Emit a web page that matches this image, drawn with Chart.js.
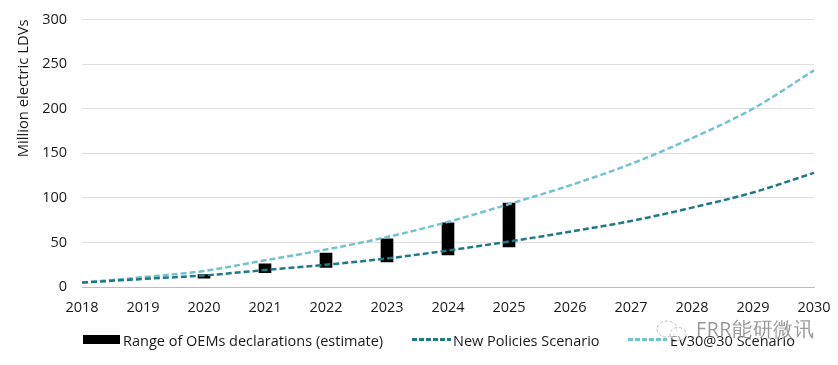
<!DOCTYPE html>
<html>
<head>
<meta charset="utf-8">
<script src="https://cdn.jsdelivr.net/npm/chart.js@4"></script>
<style>
  html, body { margin: 0; padding: 0; background: #fff; }
  #wrap { position: relative; width: 838px; height: 365px; overflow: hidden; font-family: "Open Sans", sans-serif; color: #1a1a1a; }
  #wrap canvas { position: absolute; left: 0; top: 0; }
  .leg { position: absolute; top: 331px; font-size: 14.5px; line-height: 20px; white-space: nowrap; }
  .key { position: absolute; }
  #mark { position: absolute; left: 696px; top: 316px; font-size: 19.5px; line-height: 26px; color: rgba(120,120,120,.75); letter-spacing: .6px; text-shadow: 0 0 2px #fff; white-space: nowrap; }
  #icon { position: absolute; left: 655px; top: 319px; }
</style>
</head>
<body>
<div id="wrap">
  <canvas id="chart" width="838" height="365"></canvas>
  <div class="key" style="left:83px;top:335px;width:37px;height:9px;background:#000"></div>
  <div class="leg" style="left:123px">Range of OEMs declarations (estimate)</div>
  <div class="key" style="left:412px;top:338px;width:39px;height:3px;background:repeating-linear-gradient(90deg,#1f7a86 0 5px,transparent 5px 7px)"></div>
  <div class="leg" style="left:453px">New Policies Scenario</div>
  <div class="key" style="left:628px;top:338px;width:39px;height:3px;background:repeating-linear-gradient(90deg,#72c3cc 0 5px,transparent 5px 7px)"></div>
  <div class="leg" style="left:670px">EV30@30 Scenario</div>
  <svg id="icon" width="34" height="24" viewBox="0 0 34 24">
    <ellipse cx="12" cy="10" rx="10" ry="8" fill="rgba(255,255,255,.6)" stroke="#bbb" stroke-dasharray="3 2"/>
    <ellipse cx="23" cy="15" rx="8" ry="6.5" fill="rgba(255,255,255,.6)" stroke="#bbb" stroke-dasharray="3 2"/>
  </svg>
  <div id="mark">FRR能研微讯</div>
</div>
<script>
const years = ['2018','2019','2020','2021','2022','2023','2024','2025','2026','2027','2028','2029','2030'];
const oemLow  = [null, null, 10, 16, 22, 28, 36, 45, null, null, null, null, null];
const oemHigh = [null, null, 14, 26, 38, 54, 72, 94, null, null, null, null, null];
const newPolicies = [5, 9, 13, 19, 25, 32, 41, 51, 62, 74, 89, 106, 128];
const ev3030 = [5, 11, 18, 30, 42, 56, 73, 93, 114, 138, 167, 200, 243];
const yTicks = [0, 50, 100, 150, 200, 250, 300];

const tickFont = { family: '"Open Sans", sans-serif', size: 14.5 };

new Chart(document.getElementById('chart').getContext('2d'), {
  data: {
    labels: years,
    datasets: [
      {
        type: 'line',
        label: 'New Policies Scenario',
        data: newPolicies,
        borderColor: '#1f7a86',
        borderWidth: 2.5,
        borderDash: [6, 3],
        pointRadius: 0,
        cubicInterpolationMode: 'monotone',
        order: 1,
      },
      {
        type: 'line',
        label: 'EV30@30 Scenario',
        data: ev3030,
        borderColor: '#72c3cc',
        borderWidth: 2.5,
        borderDash: [6, 3],
        pointRadius: 0,
        cubicInterpolationMode: 'monotone',
        order: 2,
      },
      {
        type: 'bar',
        label: 'Range of OEMs declarations (estimate)',
        data: oemLow.map((v, i) => (v === null ? null : [v, oemHigh[i]])),
        backgroundColor: '#000',
        barThickness: 12,
        order: 3,
      },
    ],
  },
  options: {
    responsive: false,
    animation: false,
    layout: { padding: { top: 19.5, right: 24, bottom: 0, left: 0 } },
    plugins: { legend: { display: false }, tooltip: { enabled: false } },
    scales: {
      x: {
        offset: false,
        afterFit: (s) => { s.height = 78; },
        grid: { display: false },
        border: { color: '#bdbdbd' },
        ticks: { color: '#1a1a1a', font: tickFont, maxRotation: 0, autoSkip: false, padding: 4 },
      },
      y: {
        min: 0,
        max: 300,
        // tick padding would otherwise push the plot top down
        afterFit: (s) => { s.width = 82; s.paddingTop = 0; s.paddingBottom = 0; },
        afterBuildTicks: (s) => { s.ticks = yTicks.map((v) => ({ value: v })); },
        grid: { color: '#dedede', drawTicks: false },
        border: { display: false },
        ticks: { color: '#1a1a1a', font: tickFont, padding: 15 },
        title: {
          display: true,
          text: 'Million electric LDVs',
          align: 'end',
          color: '#1a1a1a',
          font: { family: '"Open Sans", sans-serif', size: 14.8 },
          padding: { top: 15, bottom: 0 },
        },
      },
    },
  },
});
</script>
</body>
</html>
